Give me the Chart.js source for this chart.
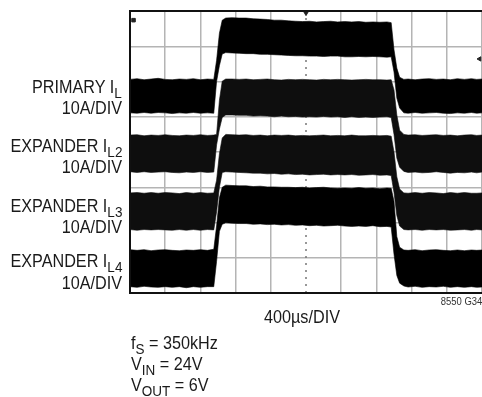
<!DOCTYPE html>
<html lang="en">
<head>
    <meta charset="UTF-8">
    <title>Inductor currents, load step</title>
    <script src="https://cdn.jsdelivr.net/npm/chart.js"></script>
    <style>
        body { margin: 0; background: #fff; }
        #wrap { position: relative; width: 482px; height: 397px; overflow: hidden; }
        canvas { position: absolute; left: 0; top: 0; }
        .t { position: absolute; white-space: nowrap; color: #1a1a1a; line-height: 20px; height: 20px;
             font-family: "Liberation Sans", sans-serif; font-size: 18px; }
        .r { right: 360px; text-align: right; transform: scaleX(.9); transform-origin: right center; }
        .l { left: 131px; transform: scaleX(.9); transform-origin: left center; }
        sub { font-size: 15px; line-height: 0; vertical-align: -5px; }
    </style>
</head>
<body>
    <div id="wrap">
        <canvas id="scope" width="482" height="397"></canvas>
        <div class="t r" style="top:77px">PRIMARY I<sub>L</sub></div>
        <div class="t r" style="top:98px">10A/DIV</div>
        <div class="t r" style="top:136px">EXPANDER I<sub>L2</sub></div>
        <div class="t r" style="top:157px">10A/DIV</div>
        <div class="t r" style="top:196px">EXPANDER I<sub>L3</sub></div>
        <div class="t r" style="top:217px">10A/DIV</div>
        <div class="t r" style="top:251px">EXPANDER I<sub>L4</sub></div>
        <div class="t r" style="top:273px">10A/DIV</div>
        <div class="t l" style="top:307px;left:264px">400µs/DIV</div>
        <div class="t" style="top:291px;right:0;font-size:11px;transform:scaleX(.86);transform-origin:right center;color:#333">8550 G34</div>
        <div class="t l" style="top:333px">f<sub>S</sub> = 350kHz</div>
        <div class="t l" style="top:354px">V<sub>IN</sub> = 24V</div>
        <div class="t l" style="top:375px">V<sub>OUT</sub> = 6V</div>
    </div>
    <script>
        // time in divisions (400us/DIV), levels in divisions up from the bottom of the screen
        const times = [
            0, .2, .4, .6, .8, 1, 1.2, 1.4, 1.6, 1.8, 2, 2.2, 2.38,
            2.46, 2.54, 2.62, 2.72,
            2.9, 3.1, 3.3, 3.5, 3.7, 3.9, 4.1, 4.3, 4.5, 4.7, 4.9, 5.1, 5.3, 5.5, 5.7, 5.9, 6.1, 6.3, 6.5, 6.7, 6.9, 7.1, 7.3, 7.42,
            7.5, 7.58, 7.66, 7.78,
            7.9, 8.1, 8.3, 8.5, 8.7, 8.9, 9.1, 9.3, 9.5, 9.7, 9.85, 10
        ];

        const primaryTop = [
            6.06, 6.08, 6.05, 6.07, 6.09, 6.06, 6.05, 6.07, 6.06, 6.08, 6.05, 6.07, 6.06,
            6.6, 7.37, 7.74, 7.8,
            7.81, 7.80, 7.80, 7.78, 7.77, 7.76, 7.74, 7.74, 7.72, 7.71, 7.70, 7.71, 7.69, 7.70, 7.71, 7.69, 7.70, 7.69, 7.70, 7.68, 7.69, 7.68, 7.69, 7.67,
            6.9, 6.38, 6.12, 6.06,
            6.07, 6.05, 6.07, 6.08, 6.06, 6.07, 6.05, 6.08, 6.06, 6.08, 6.06, 6.07
        ];
        const primaryBottom = [
            5.11, 5.10, 5.12, 5.10, 5.12, 5.11, 5.09, 5.11, 5.10, 5.12, 5.10, 5.11, 5.10,
            6.0, 6.45, 6.78, 6.82,
            6.81, 6.80, 6.79, 6.79, 6.77, 6.77, 6.76, 6.75, 6.74, 6.73, 6.73, 6.72, 6.72, 6.71, 6.72, 6.72, 6.70, 6.70, 6.71, 6.70, 6.71, 6.70, 6.69, 6.70,
            6.27, 5.53, 5.25, 5.11,
            5.10, 5.12, 5.10, 5.11, 5.12, 5.10, 5.09, 5.11, 5.10, 5.12, 5.10, 5.11
        ];
        const l2Top = [
            4.48, 4.49, 4.46, 4.48, 4.47, 4.49, 4.47, 4.46, 4.48, 4.47, 4.49, 4.47, 4.48,
            4.5, 5.47, 6.01, 6.07,
            6.07, 6.06, 6.07, 6.05, 6.06, 6.07, 6.05, 6.04, 6.06, 6.05, 6.06, 6.05, 6.04, 6.06, 6.05, 6.06, 6.05, 6.04, 6.05, 6.06, 6.05, 6.05, 6.04, 6.05,
            5.76, 5.05, 4.62, 4.5,
            4.48, 4.49, 4.47, 4.48, 4.49, 4.47, 4.48, 4.46, 4.48, 4.49, 4.47, 4.48
        ];
        const l2Bottom = [
            3.44, 3.42, 3.44, 3.42, 3.43, 3.44, 3.42, 3.41, 3.43, 3.42, 3.44, 3.42, 3.43,
            4.2, 4.65, 4.98, 5.05,
            5.05, 5.04, 5.04, 5.02, 5.03, 5.02, 5.00, 5.02, 5.00, 5.01, 4.99, 5.00, 4.99, 5.01, 4.99, 5.00, 4.98, 5.00, 4.98, 4.99, 4.98, 4.99, 5.00, 4.98,
            4.5, 3.83, 3.57, 3.45,
            3.42, 3.43, 3.41, 3.42, 3.44, 3.42, 3.40, 3.42, 3.41, 3.43, 3.41, 3.43
        ];
        const l3Top = [
            2.84, 2.85, 2.83, 2.85, 2.83, 2.85, 2.84, 2.82, 2.85, 2.83, 2.85, 2.83, 2.84,
            3.2, 3.95, 4.4, 4.5,
            4.49, 4.48, 4.49, 4.47, 4.48, 4.46, 4.48, 4.47, 4.48, 4.46, 4.47, 4.46, 4.47, 4.48, 4.46, 4.47, 4.46, 4.48, 4.46, 4.46, 4.47, 4.46, 4.47, 4.45,
            4.0, 3.3, 2.95, 2.84,
            2.83, 2.85, 2.83, 2.85, 2.84, 2.82, 2.85, 2.83, 2.85, 2.83, 2.83, 2.84
        ];
        const l3Bottom = [
            1.80, 1.78, 1.80, 1.79, 1.80, 1.79, 1.78, 1.80, 1.78, 1.80, 1.78, 1.80, 1.79,
            2.3, 3.0, 3.42, 3.44,
            3.43, 3.42, 3.41, 3.40, 3.40, 3.38, 3.39, 3.37, 3.38, 3.36, 3.37, 3.35, 3.36, 3.37, 3.35, 3.36, 3.35, 3.36, 3.34, 3.35, 3.36, 3.34, 3.35, 3.33,
            2.85, 2.2, 1.9, 1.8,
            1.79, 1.80, 1.78, 1.80, 1.79, 1.80, 1.78, 1.79, 1.80, 1.78, 1.80, 1.79
        ];
        const l4Top = [
            1.23, 1.21, 1.23, 1.20, 1.22, 1.23, 1.21, 1.20, 1.22, 1.21, 1.23, 1.21, 1.24,
            1.9, 2.7, 3.0, 3.06,
            3.05, 3.04, 3.04, 3.02, 3.03, 3.01, 3.01, 3.00, 3.00, 2.99, 3.00, 2.98, 2.99, 3.00, 2.98, 2.97, 2.98, 2.97, 2.99, 2.97, 2.98, 2.96, 2.98, 2.97,
            2.6, 1.6, 1.3, 1.22,
            1.21, 1.23, 1.20, 1.22, 1.23, 1.21, 1.20, 1.22, 1.20, 1.22, 1.21, 1.22
        ];
        const l4Bottom = [
            .18, .16, .19, .17, .16, .18, .16, .18, .15, .18, .16, .18, .18,
            .9, 1.75, 1.95, 1.99,
            1.98, 1.97, 1.97, 1.95, 1.96, 1.94, 1.95, 1.93, 1.94, 1.92, 1.93, 1.91, 1.92, 1.90, 1.91, 1.92, 1.90, 1.89, 1.90, 1.89, 1.91, 1.88, 1.89, 1.87,
            1.1, .5, .28, .2,
            .17, .19, .16, .18, .17, .19, .16, .18, .16, .18, .16, .17
        ];

        // small scope markers: trigger position, ground arrow, channel tag
        const triggerMark = [{ x: 5, y: 7.94 }];
        const groundMark = [{ x: 9.93, y: 6.64 }];
        const channelMark = [{ x: .1, y: 7.74 }];
        const centreLine = [{ x: 5, y: 0 }, { x: 5, y: 8 }];

        const points = (levels) => levels.map((v, i) => ({ x: times[i], y: v }));

        const band = (top, bottom, colour) => [{
            data: points(top),
            borderColor: colour,
            backgroundColor: colour,
            borderWidth: .6,
            pointRadius: 0,
            tension: 0,
            fill: '+1'
        }, {
            data: points(bottom),
            borderColor: colour,
            borderWidth: .6,
            pointRadius: 0,
            tension: 0,
            fill: false
        }];

        const marker = (data, style, radius, rotation) => ({
            data: data,
            showLine: false,
            pointStyle: style,
            pointRadius: radius,
            pointRotation: rotation,
            pointBackgroundColor: '#222',
            pointBorderColor: '#222',
            pointBorderWidth: 1
        });

        const frame = {
            id: 'frame',
            afterDraw(chart) {
                const a = chart.chartArea;
                const ctx = chart.ctx;
                ctx.save();
                ctx.strokeStyle = '#111';
                ctx.lineWidth = 2;
                ctx.strokeRect(a.left, a.top, a.right - a.left + 4, a.bottom - a.top);
                ctx.restore();
            }
        };

        const gridOpts = (skip) => ({
            color: (c) => c.tick.value === skip ? 'transparent' : '#b4b4b4',
            lineWidth: 1.5,
            drawTicks: false
        });

        new Chart(document.getElementById('scope'), {
            type: 'line',
            data: {
                datasets: [
                    marker(triggerMark, 'triangle', 2.5, 180),
                    marker(groundMark, 'triangle', 2.5, 270),
                    marker(channelMark, 'rect', 2.5, 0),
                    ...band(primaryTop, primaryBottom, '#000'),
                    ...band(l2Top, l2Bottom, '#0e0e0e'),
                    ...band(l3Top, l3Bottom, '#0e0e0e'),
                    ...band(l4Top, l4Bottom, '#000'),
                    {
                        data: centreLine,
                        borderColor: '#777',
                        borderWidth: 1.5,
                        borderDash: [2, 5],
                        pointRadius: 0
                    }
                ]
            },
            options: {
                responsive: false,
                animation: false,
                layout: { autoPadding: false, padding: { left: 130, right: 0, top: 11, bottom: 104 } },
                plugins: { legend: { display: false }, tooltip: { enabled: false } },
                scales: {
                    x: {
                        type: 'linear', min: 0, max: 10,
                        border: { display: false },
                        ticks: { stepSize: 1, display: false },
                        grid: gridOpts(5)
                    },
                    y: {
                        min: 0, max: 8,
                        border: { display: false },
                        ticks: { stepSize: 1, display: false },
                        grid: gridOpts(-1)
                    }
                }
            },
            plugins: [frame]
        });
    </script>
</body>
</html>
